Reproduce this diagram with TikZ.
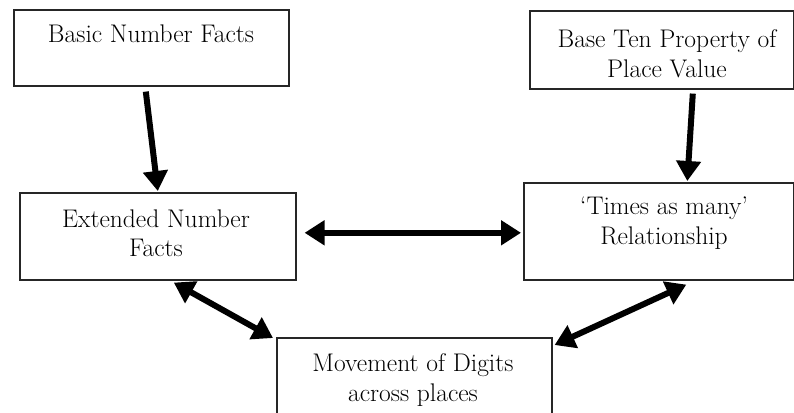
\documentclass[tikz,border=0pt]{standalone}
\usetikzlibrary{arrows.meta}
\begin{document}
\begin{tikzpicture}[x=1pt,y=-1pt,
  box/.style={draw=black!85, line width=1.6pt, fill=white, inner sep=0pt, anchor=north west},
  lbl/.style={align=center, text=black, font=\fontsize{25.5}{29.5}\selectfont},
  bigarrow/.style={line width=6pt, -{Triangle[length=20pt,width=24pt]}},
  dblarrow/.style={line width=6pt, {Triangle[length=20pt,width=24pt]}-{Triangle[length=20pt,width=24pt]}}]
\useasboundingbox (0,0) rectangle (794,412);
\clip (0,0) rectangle (794,412);
% boxes
\node[box, minimum width=275pt, minimum height=76pt] (b1) at (13,9) {};
\node[box, minimum width=264pt, minimum height=78pt] (b2) at (529,10) {};
\node[box, minimum width=276pt, minimum height=87pt] (b3) at (19,192) {};
\node[box, minimum width=270pt, minimum height=97pt] (b4) at (523,182) {};
\node[box, minimum width=275pt, minimum height=90pt] (b5) at (276,337) {};
% labels
\node[lbl] (t1) at (151,34) {Basic Number Facts};
\node[lbl] (t2) at (667,54) {Base Ten Property of\\Place Value};
\node[lbl] (t3) at (156,233) {Extended Number\\Facts};
\node[lbl] (t4) at (664,223) {`Times as many'\\Relationship};
\node[lbl] (t5) at (413,380) {Movement of Digits\\across places};
% connectors
\draw[bigarrow] ([xshift=-5.5pt,yshift=-5pt]b1.south) -- ([yshift=1pt]b3.north);
\draw[bigarrow] ([xshift=31pt,yshift=-4pt]b2.south) -- ([xshift=28.5pt,yshift=1pt]b4.north);
\draw[dblarrow] ([xshift=8pt,yshift=3.5pt]b3.east) -- ([xshift=-2pt,yshift=-1.5pt]b4.west);
\draw[dblarrow] ([xshift=16pt,yshift=-2pt]b3.south) -- ([xshift=-3pt,yshift=-1pt]b5.north west);
\draw[dblarrow] ([xshift=27.5pt,yshift=-4pt]b4.south) -- ([xshift=2pt,yshift=-8pt]b5.north east);
\end{tikzpicture}
\end{document}
